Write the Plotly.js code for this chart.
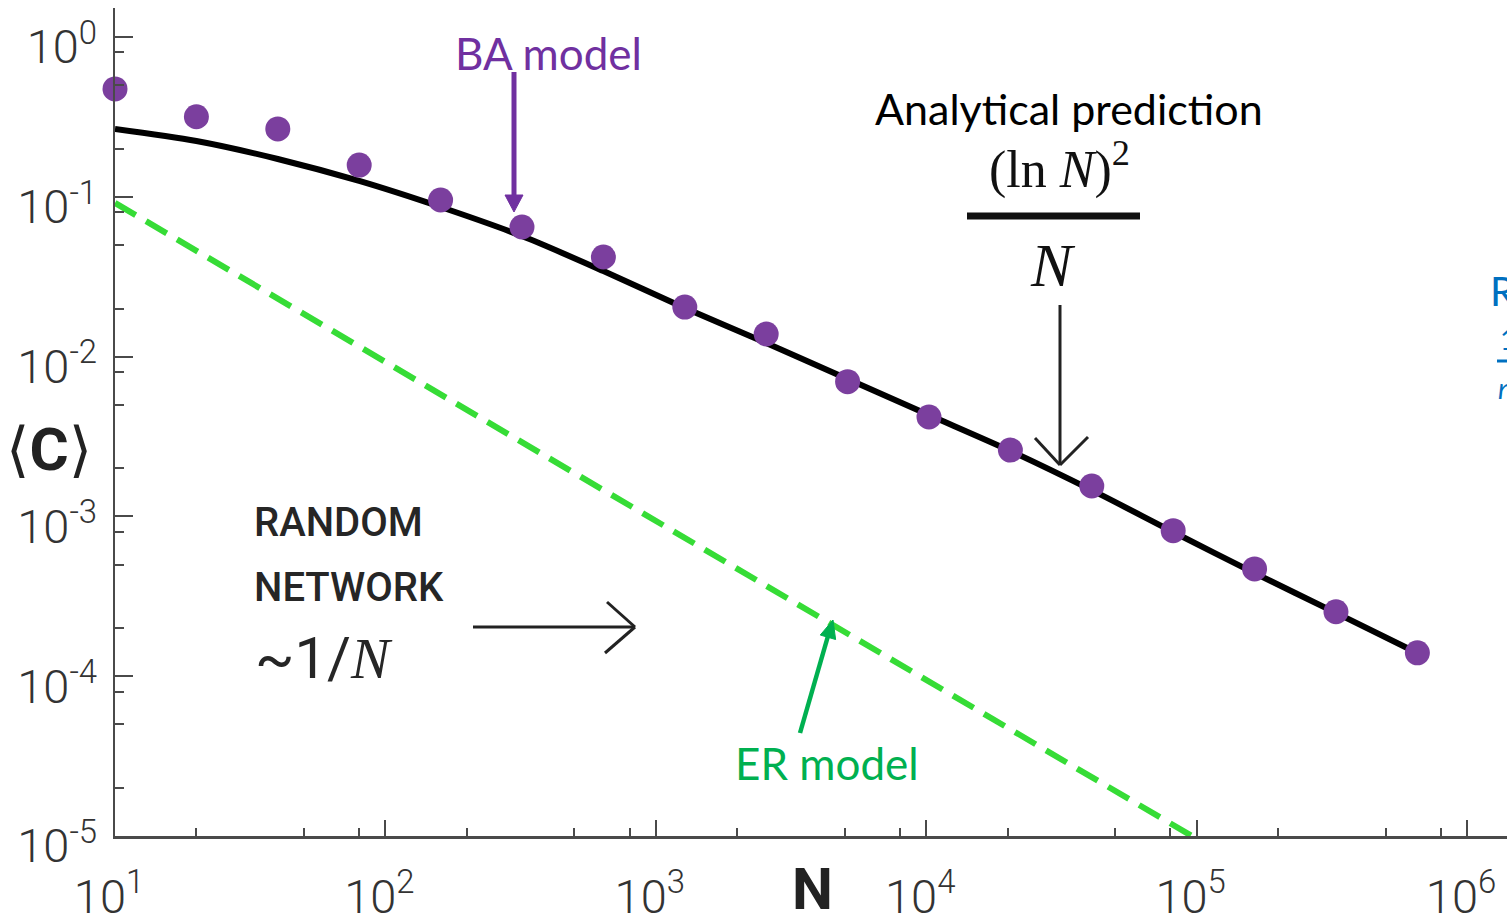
<!DOCTYPE html>
<html>
<head>
<meta charset="utf-8">
<script src="https://cdn.plot.ly/plotly-3.0.1.min.js"></script>
<style>
  html, body { margin: 0; padding: 0; background: #ffffff; }
  #chart { width: 1507px; height: 923px; }
</style>
</head>
<body>
<div id="chart"></div>
<script>
// ---- data ----
const N_BA = [10, 20, 40, 80, 160, 320, 640, 1280, 2560, 5120, 10240, 20480, 40960, 81920, 163840, 327680, 655360];
const C_BA = [0.473, 0.317, 0.266, 0.158, 0.0955, 0.0647, 0.0420, 0.0204, 0.01385, 0.00697, 0.00419, 0.00260, 0.00155, 0.000814, 0.000469, 0.000253, 0.000140];

const N_PRED = [10, 20, 40, 80, 160, 320, 640, 1280, 2560, 5120, 10240, 20480, 40960, 81920, 163840, 327680, 655360];
const C_PRED = [0.2656, 0.2234, 0.1724, 0.1256, 0.0863, 0.0568, 0.0343, 0.02014, 0.01217, 0.00724, 0.00431, 0.00257, 0.00146, 0.000799, 0.000442, 0.000249, 0.0001397];

const N_ER = [10, 100, 1000, 10000, 96000];
const C_ER = [0.0915, 0.0093, 0.00094, 0.000096, 0.00001];

const X_TICKS = [10, 100, 1000, 10000, 100000, 1000000];
const X_TICK_TEXT = ['10<sup>1</sup>', '10<sup>2</sup>', '10<sup>3</sup>', '10<sup>4</sup>', '10<sup>5</sup>', '10<sup>6</sup>'];
const X_MINOR = [20, 50, 80, 200, 500, 800, 2000, 5000, 8000, 20000, 50000, 80000, 200000, 500000, 800000];

const Y_TICKS = [1e-5, 1e-4, 1e-3, 1e-2, 1e-1, 1];
const Y_TICK_TEXT = ['10<sup>-5</sup>', '10<sup>-4</sup>', '10<sup>-3</sup>', '10<sup>-2</sup>', '10<sup>-1</sup>', '10<sup>0</sup>'];
const Y_MINOR = [2e-5, 5e-5, 8e-5, 2e-4, 5e-4, 8e-4, 2e-3, 5e-3, 8e-3, 0.02, 0.05, 0.08, 0.2, 0.5, 0.8];

// ---- layout helpers (pixel -> paper) ----
const W = 1507, H = 923, ML = 115, MR = 0, MT = 8, MB = 87;
const PW = W - ML - MR, PH = H - MT - MB;
const X = px => (px - ML) / PW;
const Y = py => (H - MB - py) / PH;

const PURPLE_DOT = '#7b3f9e';
const PURPLE_TXT = '#7030a0';
const GREEN_TXT = '#00b050';
const AX = '#4a4a4a';
const SANS = 'Lato, "Open Sans", sans-serif';
const DIN = 'Roboto, "DejaVu Sans", sans-serif';
const SERIF = '"Liberation Serif", "DejaVu Serif", serif';

function ann(text, px, py, size, color, family, opts, weight) {
  return Object.assign({
    text: text, xref: 'paper', yref: 'paper', x: X(px), y: Y(py),
    xanchor: 'center', yanchor: 'middle', showarrow: false,
    font: { size: size, color: color, family: family, weight: weight || 'normal' }
  }, opts || {});
}
function line(x0, y0, x1, y1, color, width) {
  return { type: 'line', xref: 'paper', yref: 'paper', x0: X(x0), y0: Y(y0), x1: X(x1), y1: Y(y1),
           line: { color: color, width: width } };
}
function head(x0, y0, x1, y1, len, half, color) {
  const dx = x1 - x0, dy = y1 - y0, L = Math.hypot(dx, dy);
  const ux = dx / L, uy = dy / L, bx = x1 - ux * len, by = y1 - uy * len;
  const p1 = [bx - uy * half, by + ux * half], p2 = [bx + uy * half, by - ux * half];
  const path = `M ${X(x1)},${Y(y1)} L ${X(p1[0])},${Y(p1[1])} L ${X(p2[0])},${Y(p2[1])} Z`;
  return { type: 'path', xref: 'paper', yref: 'paper', path: path,
           fillcolor: color, line: { color: color, width: 1 } };
}

const traces = [
  { x: N_ER, y: C_ER, mode: 'lines', name: 'ER model',
    line: { color: '#36dc36', width: 6, dash: '24px,12px' }, cliponaxis: true },
  { x: N_PRED, y: C_PRED, mode: 'lines', name: 'Analytical prediction',
    line: { color: '#000000', width: 6, shape: 'spline', smoothing: 0.8 }, cliponaxis: false },
  { x: N_BA, y: C_BA, mode: 'markers', name: 'BA model',
    marker: { color: PURPLE_DOT, size: 25, line: { width: 0 } }, cliponaxis: false }
];

const axisCommon = {
  type: 'log', showgrid: false, zeroline: false, showline: true,
  linecolor: AX, linewidth: 2.5, mirror: false,
  ticks: 'inside', tickcolor: AX, tickwidth: 2, tickmode: 'array',
  tickfont: { family: DIN, size: 47, color: '#333333', weight: 300 }
};

const layout = {
  width: W, height: H,
  margin: { l: ML, r: MR, t: MT, b: MB, pad: 0 },
  paper_bgcolor: '#ffffff', plot_bgcolor: '#ffffff',
  showlegend: false,
  xaxis: Object.assign({}, axisCommon, {
    range: [1, 1 + PW / 270.4],
    tickvals: X_TICKS, ticktext: X_TICK_TEXT, ticklen: 16,
    minor: { tickmode: 'array', tickvals: X_MINOR, ticks: 'inside', ticklen: 8, tickwidth: 2, tickcolor: AX },
    ticklabelshift: -6,
    ticklabelstandoff: 18
  }),
  yaxis: Object.assign({}, axisCommon, {
    range: [-5, -5 + PH / 159.8],
    tickvals: Y_TICKS, ticktext: Y_TICK_TEXT, ticklen: 18,
    minor: { tickmode: 'array', tickvals: Y_MINOR, ticks: 'inside', ticklen: 9, tickwidth: 2, tickcolor: AX },
    ticklabelstandoff: 6,
    ticklabelshift: 10
  }),
  annotations: [
    ann('<b>N</b>', 812, 889, 58, '#222222', DIN),
    ann('⟨<b>C</b>⟩', 49, 450, 60, '#222222', DIN),
    ann('BA model', 548, 53, 44, PURPLE_TXT, SANS),
    ann('Analytical prediction', 1069, 109, 43, '#000000', SANS),
    ann('(ln <i>N</i>)<sup>2</sup>', 1059, 166, 52, '#111111', SERIF),
    ann('<i>N</i>', 1053, 265, 62, '#111111', SERIF),
    ann('RANDOM', 252, 522, 40, '#262626', DIN, { xanchor: 'left' }, 500),
    ann('NETWORK', 252, 587, 40, '#262626', DIN, { xanchor: 'left' }, 500),
    ann('~1/<span style="font-family:Liberation Serif, serif"><i>N</i></span>', 253, 658, 58, '#262626', DIN, { xanchor: 'left' }),
    ann('ER model', 827, 763, 44, GREEN_TXT, SANS),
    ann('R', 1488, 291, 40, '#0070c0', SANS, { xanchor: 'left' }),
    ann('1', 1498, 339, 28, '#0070c0', SANS, { xanchor: 'left' }),
    ann('<i>n</i>', 1496, 388, 28, '#0070c0', SANS, { xanchor: 'left' })
  ],
  shapes: [
    // BA model arrow
    line(514, 72, 514, 198, PURPLE_TXT, 5),
    head(514, 72, 514, 212, 17, 9, PURPLE_TXT),
    // fraction bar
    line(967, 216, 1140, 216, '#111111', 7),
    // analytical prediction arrow (open head)
    line(1060, 305, 1060, 465, '#222222', 3),
    line(1035, 438, 1060, 465, '#222222', 3),
    line(1088, 437, 1060, 465, '#222222', 3),
    // random network arrow (open head)
    line(473, 627, 635, 627, '#222222', 3),
    line(607, 602, 635, 627, '#222222', 3),
    line(605, 653, 635, 627, '#222222', 3),
    // ER model arrow
    line(800, 733, 828, 636, GREEN_TXT, 4.5),
    head(800, 733, 833, 620, 18, 8, GREEN_TXT),
    // blue partial fraction bar at the right edge
    line(1497, 361, 1510, 361, '#0070c0', 3)
  ]
};

Plotly.newPlot('chart', traces, layout, { staticPlot: true, displayModeBar: false });
</script>
</body>
</html>
